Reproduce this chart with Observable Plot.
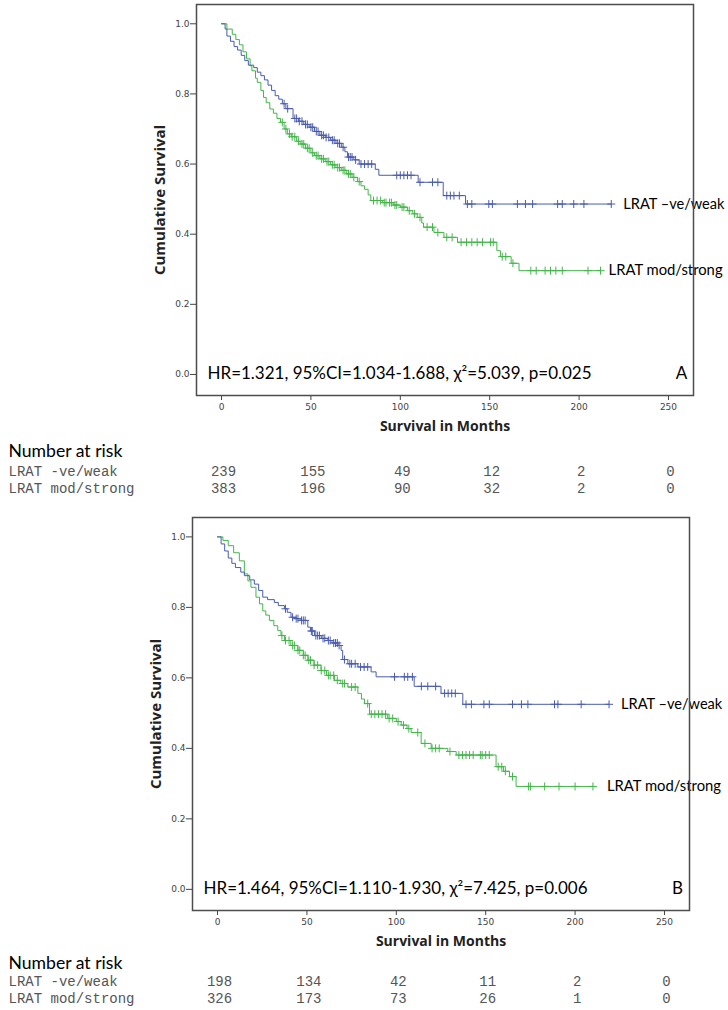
<!DOCTYPE html>
<html><head><meta charset="utf-8">
<script src="https://cdn.jsdelivr.net/npm/d3@7"></script>
<script src="https://cdn.jsdelivr.net/npm/@observablehq/plot@0.6"></script>
<style>body{margin:0;background:#fff;} #c{width:728px;} svg{display:block;}</style>
</head><body><div id="c"></div><script>
// ---------- shared ----------
const xTicks = [0, 50, 100, 150, 200, 250];
const yTicks = [0, 0.2, 0.4, 0.6, 0.8, 1.0];
const riskTimes = [0, 50, 100, 150, 200, 250];
const groupNames = ["LRAT -ve/weak", "LRAT mod/strong"];
const curveLabels = ["LRAT \u2013ve/weak", "LRAT mod/strong"];

// ---------- Panel A ----------
const aNegTime = [0,2,3,5,7,9,11,13,15,18,20,22,24,26,28,30,32,34,36,40,43,46,49,52,55,58,61,64,67,69,70.5,74,77,86,88,110,124,136.5];
const aNegSurv = [1,0.985,0.965,0.95,0.935,0.925,0.91,0.895,0.882,0.875,0.862,0.852,0.84,0.825,0.81,0.795,0.785,0.772,0.758,0.73,0.722,0.713,0.705,0.693,0.682,0.676,0.668,0.659,0.648,0.635,0.62,0.612,0.6,0.585,0.568,0.548,0.51,0.486];
const aNegCens = [35,37,41,42,43.5,45,47,48,50,51,53,54,56,57,58.5,60,62,63,65,66,68,71,72,73,75,78,80,82,84,98,100,102,104,106,111,118,121,126,128,130,133,137.5,140,149.5,151.5,165.5,170,174,188,190.6,197,202.7,218];
const aPosTime = [0,3,6,8,10,12,14,16,17,19,20,22,23.5,25,27,29,31,33,35,36.8,39,42,44,47,50,52,55,58,61,64,67,70,73,76,78,80,82,83.5,90,96,100,104,107,109.5,112,113,118.8,124.4,132,154,156,162,166.4];
const aPosSurv = [1,0.985,0.97,0.955,0.94,0.92,0.9,0.88,0.866,0.845,0.833,0.81,0.79,0.775,0.757,0.745,0.73,0.719,0.7,0.686,0.678,0.665,0.657,0.645,0.632,0.624,0.615,0.607,0.598,0.59,0.582,0.572,0.562,0.55,0.538,0.528,0.512,0.496,0.49,0.483,0.477,0.467,0.458,0.448,0.432,0.42,0.405,0.391,0.377,0.353,0.336,0.317,0.296];
const aPosCens = [34,36,38,39.5,41,43,45,46,48,49,51,53,54,56,57,59,60,62,63,65,66,68,69,71,72,74,77,85,87,89,91,92,94,95,97,98,101,102,105,108,111,115,118,121,126,129,134,137,140,143,146,150.5,152,157,159,163,173,176,181,184,187,190.6,205,212];
const aRiskNeg = [239, 155, 49, 12, 2, 0];
const aRiskPos = [383, 196, 90, 32, 2, 0];
const aStats = "HR=1.321, 95%CI=1.034-1.688, \u03c7\u00b2=5.039, p=0.025";

// ---------- Panel B ----------
const bNegTime = [0,2,4,6,8,10,13,15,18,20.6,23,25.3,28,31.8,34,37.4,39,41.1,44,46.7,50.5,52,54.2,58,61.7,64,67.3,69.1,70,72.9,78.5,85.9,88.7,110,125,137.2];
const bNegSurv = [1,0.98,0.96,0.94,0.925,0.913,0.9,0.89,0.878,0.866,0.848,0.829,0.822,0.814,0.805,0.796,0.786,0.772,0.768,0.763,0.744,0.733,0.72,0.712,0.706,0.699,0.692,0.678,0.652,0.64,0.631,0.617,0.603,0.576,0.556,0.525];
const bNegCens = [38,42,44,45,47,48,49,52.5,53,55,56,57,59,60,62,63,65,66,67,68,71,74,75,77,80,82,84,99,104.5,106.4,109,114,117.6,122,127,129,131,133,139,142,149,152,165,170,173.6,188.5,190.4,203.4,219];
const bPosTime = [0,3,6,9,12.2,15,17,18.7,21.5,23.5,25.3,27,29,31.5,33.7,35.5,37.4,41,44.9,48,50.5,54,57.9,61,65.4,69,72.9,78.5,80.5,82.2,85,95.2,100,102.7,106,108.3,113.9,119.5,128.8,133.5,155.8,160,163.3,167];
const bPosSurv = [1,0.99,0.975,0.955,0.932,0.895,0.875,0.857,0.829,0.81,0.79,0.778,0.763,0.748,0.734,0.72,0.706,0.692,0.678,0.664,0.65,0.636,0.621,0.607,0.593,0.584,0.574,0.556,0.54,0.527,0.497,0.485,0.476,0.466,0.456,0.445,0.414,0.4,0.391,0.381,0.348,0.335,0.32,0.292];
const bPosCens = [36,38,40,42,43,45,46,48,49,51,52,54,56,58,60,62,63,65,67,70,71,75,77,84,86,88,90,92,94,96,98,101,104,107,112,116,120,122,124,130,135,137,139,141,143,147,148,150,152,157,159,161,165,174,175,183,191,200,210];
const bRiskNeg = [198, 134, 42, 11, 2, 0];
const bRiskPos = [326, 173, 73, 26, 1, 0];
const bStats = "HR=1.464, 95%CI=1.110-1.930, \u03c7\u00b2=7.425, p=0.006";

const BLUE = "#4a5cad", GREEN = "#45b54c";

function stepData(times, surv, cens) {
  const pts = times.map((t, i) => ({t, s: surv[i]}));
  const end = Math.max(times[times.length - 1], d3.max(cens));
  pts.push({t: end, s: surv[surv.length - 1]});
  return pts;
}
function censData(times, surv, cens) {
  return cens.map(t => {
    let s = 1;
    for (let i = 0; i < times.length; i++) if (times[i] <= t) s = surv[i];
    return {t, s};
  });
}

function panel(o) {
  const negLine = stepData(o.negT, o.negS, o.negC);
  const posLine = stepData(o.posT, o.posS, o.posC);
  const negEnd = negLine[negLine.length - 1];
  const posEnd = posLine[posLine.length - 1];
  const risk = riskTimes.map((t, i) => ({t, neg: o.riskNeg[i], pos: o.riskPos[i]}));
  return Plot.plot({
    width: 728, height: o.height,
    marginTop: o.mt, marginBottom: o.mb, marginLeft: o.ml, marginRight: o.mr,
    x: {domain: [-14, 264], ticks: xTicks, tickSize: 5, tickPadding: 3, label: null},
    y: {domain: [-0.06, 1.055], ticks: yTicks, tickSize: 6, tickPadding: 1, tickFormat: d3.format(".1f"), label: null},
    style: {fontFamily: "DejaVu Sans", fontSize: "9px", color: "#444", background: "white", overflow: "visible"},
    marks: [
      Plot.line(posLine, {x: "t", y: "s", curve: "step-after", stroke: GREEN, strokeWidth: 1}),
      Plot.line(negLine, {x: "t", y: "s", curve: "step-after", stroke: BLUE, strokeWidth: 1}),
      Plot.dot(censData(o.posT, o.posS, o.posC), {x: "t", y: "s", symbol: "plus", r: 2.7, stroke: GREEN, fill: "none", strokeWidth: 1}),
      Plot.dot(censData(o.negT, o.negS, o.negC), {x: "t", y: "s", symbol: "plus", r: 2.7, stroke: BLUE, fill: "none", strokeWidth: 1}),
      Plot.text([negEnd], {x: "t", y: "s", text: () => curveLabels[0], textAnchor: "start", dx: o.negDx, fontFamily: "Lato", fontSize: 14.6, fill: "black"}),
      Plot.text([posEnd], {x: "t", y: "s", text: () => curveLabels[1], textAnchor: "start", dx: o.posDx, fontFamily: "Lato", fontSize: 14.8, fill: "black"}),
      Plot.text([o.stats], {frameAnchor: "bottom-left", dx: 11, dy: -17, textAnchor: "start", fontFamily: "Lato", fontSize: 17, fill: "black"}),
      Plot.text([o.letter], {frameAnchor: "bottom-right", dx: -12, dy: -17, textAnchor: "middle", fontFamily: "Lato", fontSize: 17, fill: "black"}),
      Plot.text(["Cumulative Survival"], {frameAnchor: "left", textAnchor: "middle", dx: -36, rotate: -90, fontFamily: "Open Sans", fontWeight: "bold", fontSize: 15, fill: "#222"}),
      Plot.text(["Survival in Months"], {frameAnchor: "bottom", textAnchor: "middle", dy: 35, fontFamily: "Open Sans", fontWeight: "bold", fontSize: 14, fill: "#222"}),
      Plot.text(["Number at risk"], {frameAnchor: "bottom-left", dx: 8 - o.ml, dy: o.hDy, textAnchor: "start", fontFamily: "Lato", fontSize: 17.6, fill: "black"}),
      Plot.text([groupNames[0]], {frameAnchor: "bottom-left", dx: 8 - o.ml, dy: o.r1Dy, textAnchor: "start", fontFamily: "Liberation Mono", fontSize: 14, fill: "#555"}),
      Plot.text([groupNames[1]], {frameAnchor: "bottom-left", dx: 8 - o.ml, dy: o.r1Dy + 17, textAnchor: "start", fontFamily: "Liberation Mono", fontSize: 14, fill: "#555"}),
      Plot.text(risk, {x: "t", text: "neg", frameAnchor: "bottom", textAnchor: "middle", dx: 2, dy: o.r1Dy, fontFamily: "Liberation Mono", fontSize: 14, fill: "#555"}),
      Plot.text(risk, {x: "t", text: "pos", frameAnchor: "bottom", textAnchor: "middle", dx: 2, dy: o.r1Dy + 17, fontFamily: "Liberation Mono", fontSize: 14, fill: "#555"}),
      Plot.frame({stroke: "#4d4d4d", strokeWidth: 1.5})
    ]
  });
}

const c = document.getElementById("c");
c.appendChild(panel({
  height: 500, mt: 4, mb: 105, ml: 196, mr: 35,
  negT: aNegTime, negS: aNegSurv, negC: aNegCens,
  posT: aPosTime, posS: aPosSurv, posC: aPosCens,
  riskNeg: aRiskNeg, riskPos: aRiskPos, stats: aStats, letter: "A",
  negDx: 12, posDx: 8, hDy: 61, r1Dy: 80
}));
c.appendChild(panel({
  height: 510, mt: 17, mb: 100, ml: 192, mr: 39,
  negT: bNegTime, negS: bNegSurv, negC: bNegCens,
  posT: bPosTime, posS: bPosSurv, posC: bPosCens,
  riskNeg: bRiskNeg, riskPos: bRiskPos, stats: bStats, letter: "B",
  negDx: 12, posDx: 14, hDy: 58, r1Dy: 75
}));
</script></body></html>
